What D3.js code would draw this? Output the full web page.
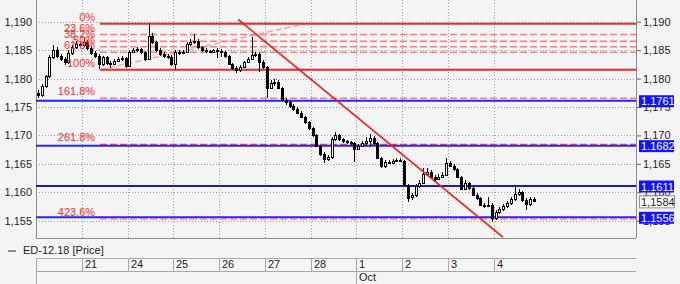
<!DOCTYPE html>
<html>
<head>
<meta charset="utf-8">
<script src="https://cdn.jsdelivr.net/npm/d3@7"></script>
<style>
  html, body { margin: 0; padding: 0; background: #f4f4f4; }
  svg { display: block; font-family: "Liberation Sans", Arial, sans-serif; }
</style>
</head>
<body>
<svg id="chart" width="680" height="284"></svg>
<script>
// one label per trading day, 12 two-hour candles per day
var dayLabels = ["20", "21", "24", "25", "26", "27", "28", "1", "2", "3", "4"];
var monthLabels = [{day: 7, text: "Oct"}];

var opens = [
  1.1775,1.1771,1.1787,1.1804,1.1838,1.1850,1.1840,1.1834,1.1829,1.1845,1.1856,1.1861,
  1.1859,1.1864,1.1854,1.1845,1.1840,1.1826,1.1838,1.1827,1.1826,1.1831,1.1834,1.1836,
  1.1822,1.1847,1.1850,1.1852,1.1847,1.1834,1.1875,1.1864,1.1850,1.1843,1.1840,1.1838,
  1.1826,1.1847,1.1845,1.1847,1.1861,1.1864,1.1866,1.1856,1.1850,1.1848,1.1847,1.1850,
  1.1848,1.1847,1.1840,1.1826,1.1819,1.1815,1.1820,1.1829,1.1834,1.1841,1.1843,1.1829,
  1.1820,1.1783,1.1792,1.1794,1.1783,1.1762,1.1759,1.1752,1.1746,1.1739,1.1732,1.1723,
  1.1713,1.1701,1.1681,1.1667,1.1658,1.1662,1.1694,1.1701,1.1694,1.1690,1.1688,1.1686,
  1.1676,1.1681,1.1686,1.1690,1.1695,1.1686,1.1660,1.1646,1.1653,1.1651,1.1655,1.1657,
  1.1655,1.1613,1.1591,1.1595,1.1611,1.1616,1.1632,1.1635,1.1627,1.1623,1.1627,1.1630,
  1.1651,1.1646,1.1641,1.1627,1.1606,1.1616,1.1607,1.1595,1.1590,1.1577,1.1576,1.1577,
  1.1554,1.1565,1.1570,1.1576,1.1581,1.1588,1.1597,1.1600,1.1586,1.1579,1.1588
];
var highs = [
  1.1780,1.1790,1.1806,1.1841,1.1859,1.1856,1.1843,1.1838,1.1850,1.1859,1.1866,1.1864,
  1.1871,1.1868,1.1857,1.1848,1.1843,1.1840,1.1840,1.1831,1.1834,1.1838,1.1840,1.1838,
  1.1850,1.1854,1.1856,1.1854,1.1848,1.1897,1.1880,1.1866,1.1854,1.1847,1.1843,1.1841,
  1.1850,1.1850,1.1850,1.1864,1.1870,1.1878,1.1870,1.1857,1.1854,1.1850,1.1852,1.1854,
  1.1852,1.1848,1.1841,1.1827,1.1822,1.1824,1.1831,1.1838,1.1873,1.1847,1.1847,1.1833,
  1.1822,1.1797,1.1799,1.1797,1.1785,1.1766,1.1762,1.1755,1.1750,1.1743,1.1734,1.1725,
  1.1715,1.1702,1.1683,1.1671,1.1665,1.1697,1.1706,1.1702,1.1695,1.1692,1.1690,1.1688,
  1.1685,1.1690,1.1697,1.1702,1.1699,1.1688,1.1662,1.1657,1.1657,1.1658,1.1660,1.1660,
  1.1657,1.1614,1.1598,1.1614,1.1621,1.1642,1.1642,1.1639,1.1630,1.1632,1.1635,1.1660,
  1.1655,1.1650,1.1642,1.1628,1.1621,1.1618,1.1611,1.1598,1.1591,1.1581,1.1591,1.1581,
  1.1569,1.1574,1.1579,1.1584,1.1591,1.1612,1.1606,1.1602,1.1590,1.1591,1.1591
];
var lows = [
  1.1766,1.1767,1.1783,1.1801,1.1834,1.1836,1.1831,1.1824,1.1826,1.1841,1.1852,1.1856,
  1.1856,1.1850,1.1841,1.1836,1.1817,1.1822,1.1824,1.1819,1.1824,1.1829,1.1831,1.1819,
  1.1820,1.1845,1.1847,1.1843,1.1831,1.1833,1.1861,1.1847,1.1840,1.1836,1.1834,1.1822,
  1.1815,1.1841,1.1843,1.1845,1.1857,1.1861,1.1852,1.1847,1.1845,1.1845,1.1845,1.1836,
  1.1838,1.1836,1.1824,1.1815,1.1810,1.1812,1.1819,1.1827,1.1833,1.1838,1.1812,1.1817,
  1.1766,1.1782,1.1787,1.1782,1.1759,1.1753,1.1748,1.1743,1.1738,1.1731,1.1720,1.1709,
  1.1697,1.1679,1.1664,1.1651,1.1655,1.1658,1.1690,1.1690,1.1686,1.1685,1.1683,1.1653,
  1.1674,1.1679,1.1681,1.1679,1.1683,1.1658,1.1642,1.1642,1.1650,1.1650,1.1653,1.1653,
  1.1609,1.1583,1.1586,1.1591,1.1607,1.1614,1.1628,1.1625,1.1620,1.1621,1.1625,1.1628,
  1.1644,1.1637,1.1625,1.1604,1.1604,1.1604,1.1593,1.1586,1.1576,1.1572,1.1574,1.1547,
  1.1551,1.1562,1.1567,1.1572,1.1577,1.1584,1.1593,1.1583,1.1569,1.1576,1.1583
];
var closes = [
  1.1771,1.1787,1.1804,1.1838,1.1850,1.1840,1.1834,1.1829,1.1845,1.1856,1.1861,1.1859,
  1.1864,1.1854,1.1845,1.1840,1.1826,1.1838,1.1827,1.1826,1.1831,1.1834,1.1836,1.1822,
  1.1847,1.1850,1.1852,1.1847,1.1834,1.1875,1.1864,1.1850,1.1843,1.1840,1.1838,1.1826,
  1.1847,1.1845,1.1847,1.1861,1.1864,1.1866,1.1856,1.1850,1.1848,1.1847,1.1850,1.1848,
  1.1847,1.1840,1.1826,1.1819,1.1815,1.1820,1.1829,1.1834,1.1841,1.1843,1.1829,1.1820,
  1.1783,1.1792,1.1794,1.1783,1.1762,1.1759,1.1752,1.1746,1.1739,1.1732,1.1723,1.1713,
  1.1701,1.1681,1.1667,1.1658,1.1662,1.1694,1.1701,1.1694,1.1690,1.1688,1.1686,1.1676,
  1.1681,1.1686,1.1690,1.1695,1.1686,1.1660,1.1646,1.1653,1.1651,1.1655,1.1657,1.1655,
  1.1613,1.1591,1.1595,1.1611,1.1616,1.1632,1.1635,1.1627,1.1623,1.1627,1.1630,1.1651,
  1.1646,1.1641,1.1627,1.1606,1.1616,1.1607,1.1595,1.1590,1.1577,1.1576,1.1577,1.1554,
  1.1565,1.1570,1.1576,1.1581,1.1588,1.1597,1.1600,1.1586,1.1579,1.1588,1.1584
];

var yTicks = [1.155, 1.160, 1.165, 1.170, 1.175, 1.180, 1.185, 1.190];
var minorTicks = [1.1525, 1.1575, 1.1625, 1.1675, 1.1725, 1.1775, 1.1825, 1.1875, 1.1925];

// fibonacci retracement drawn from the low (candle 16) to the high
var fibLow = 1.18154, fibHigh = 1.18965;
var fibStart = 16.8, fibEnd = 70.5;
var fibLevels = [0, 0.236, 0.382, 0.5, 0.618, 1, 1.618, 2.618, 4.236];
var fibNames = ["0%", "23.6%", "38.2%", "50%", "61.8%", "100%", "161.8%", "261.8%", "423.6%"];

var trendLine = [[53.0, 1.1904], [122.4, 1.1521]];
var levelLines = [1.1761, 1.1682, 1.1611, 1.1556];
var lastPrice = 1.1584;

var svg = d3.select("#chart"),
    left = 36, right = 636, top = 4, bottom = 238,
    perDay = 12;

var x = d3.scaleLinear().domain([0, 157.3]).range([left, right]);
var y = d3.scaleLinear().domain([1.155, 1.190]).range([220.7, 21.7]);

var comma = function(d) { return d3.format(".3f")(d).replace(".", ","); };

svg.append("rect").attr("width", 680).attr("height", 284).attr("fill", "#f4f4f4");

// grid
var grid = svg.append("g").attr("stroke", "#a0a0a0").attr("stroke-dasharray", "1,2").attr("shape-rendering", "crispEdges");
grid.selectAll(".h").data(yTicks).enter().append("line")
    .attr("x1", left).attr("x2", right)
    .attr("y1", function(d) { return Math.round(y(d)) + 0.5; })
    .attr("y2", function(d) { return Math.round(y(d)) + 0.5; });
grid.selectAll(".v").data(d3.range(1, dayLabels.length)).enter().append("line")
    .attr("y1", top).attr("y2", bottom)
    .attr("x1", function(k) { return Math.round(x(k * perDay)) + 0.5; })
    .attr("x2", function(k) { return Math.round(x(k * perDay)) + 0.5; });

// frame
var frame = svg.append("g").attr("stroke", "#8c8c8c").attr("shape-rendering", "crispEdges");
frame.append("line").attr("x1", left + 0.5).attr("x2", left + 0.5).attr("y1", top).attr("y2", bottom);
frame.append("line").attr("x1", right + 0.5).attr("x2", right + 0.5).attr("y1", top).attr("y2", bottom);
frame.append("line").attr("x1", left).attr("x2", right).attr("y1", bottom + 0.5).attr("y2", bottom + 0.5);

var plot = svg.append("g");

// fib levels
var fibPrice = function(l) { return fibHigh - l * (fibHigh - fibLow); };
plot.append("line")
    .attr("x1", x(fibStart)).attr("y1", y(fibLow))
    .attr("x2", x(fibEnd)).attr("y2", y(fibHigh))
    .attr("stroke", "#ff9090").attr("stroke-width", 1.2).attr("stroke-dasharray", "6,3");

// blue price levels
levelLines.forEach(function(p) {
  plot.append("line")
      .attr("x1", left).attr("x2", right)
      .attr("y1", y(p)).attr("y2", y(p))
      .attr("stroke", "#2424ff").attr("stroke-width", 2);
});
plot.append("line")
    .attr("x1", left).attr("x2", right)
    .attr("y1", y(1.1611)).attr("y2", y(1.1611))
    .attr("stroke", "#10104a").attr("stroke-width", 0.8);

fibLevels.forEach(function(l, i) {
  var solid = (l === 0 || l === 1);
  plot.append("line")
      .attr("x1", x(fibStart)).attr("x2", right)
      .attr("y1", y(fibPrice(l))).attr("y2", y(fibPrice(l)))
      .attr("stroke", solid ? "#f02828" : (l === 2.618 ? "#e83838" : "#ff7c7c"))
      .attr("stroke-width", solid ? 2 : 1.4)
      .attr("stroke-dasharray", solid ? null : "7,3");
});

svg.append("g")
    .attr("font-size", 11)
    .attr("fill", "#ff2a2a")
    .attr("text-anchor", "end")
  .selectAll("text")
  .data(fibLevels)
  .enter().append("text")
    .attr("x", x(fibStart) - 5)
    .attr("y", function(l) { return y(fibPrice(l)) - 3; })
    .text(function(l, i) { return fibNames[i]; });

// candles
var candles = plot.append("g").attr("shape-rendering", "crispEdges");
var c = candles.selectAll("g").data(d3.range(closes.length)).enter().append("g");
var cx = function(i) { return Math.round(x(i + 0.5)) + 0.5; };
c.append("line")
    .attr("x1", cx).attr("x2", cx)
    .attr("y1", function(i) { return y(highs[i]); })
    .attr("y2", function(i) { return y(lows[i]); })
    .attr("stroke", "#000");
c.append("rect")
    .attr("x", function(i) { return cx(i) - 1; })
    .attr("width", 2)
    .attr("y", function(i) { return Math.round(y(Math.max(opens[i], closes[i]))) + 0.5; })
    .attr("height", function(i) { return Math.max(1, Math.round(Math.abs(y(opens[i]) - y(closes[i])))); })
    .attr("fill", function(i) { return closes[i] >= opens[i] ? "#fff" : "#000"; })
    .attr("stroke", "#000");

// trend line, stopped at the bottom edge of the plot
var t0 = trendLine[0], t1 = trendLine[1];
var tEnd = Math.min(1, (bottom - y(t0[1])) / (y(t1[1]) - y(t0[1])));
plot.append("line")
    .attr("x1", x(t0[0])).attr("y1", y(t0[1]))
    .attr("x2", x(t0[0] + tEnd * (t1[0] - t0[0]))).attr("y2", y(t0[1] + tEnd * (t1[1] - t0[1])))
    .attr("stroke", "#ff1010").attr("stroke-width", 1.5);

// axes
var leftAxis = svg.append("g")
    .attr("transform", "translate(" + left + ",0)")
    .call(d3.axisLeft(y).tickValues(yTicks).tickSize(0).tickPadding(4).tickFormat(comma));
var rightAxis = svg.append("g")
    .attr("transform", "translate(" + (right + 1) + ",0)")
    .call(d3.axisRight(y).tickValues(yTicks).tickSize(4).tickPadding(2).tickFormat(comma));
svg.append("g")
    .attr("transform", "translate(" + (right + 1) + ",0)")
    .call(d3.axisRight(y).tickValues(minorTicks.filter(function(d) { return y(d) > top && y(d) < bottom; })).tickSize(3).tickFormat(""))
    .select(".domain").remove();
[leftAxis, rightAxis].forEach(function(a) {
  a.select(".domain").remove();
  a.selectAll("text").attr("font-size", 11).attr("fill", "#1e1e1e").attr("font-family", "Liberation Sans, Arial, sans-serif");
  a.selectAll("line").attr("stroke", "#606060");
});

// right-hand price tags
var tags = svg.append("g").attr("font-size", 11);
levelLines.forEach(function(p) {
  tags.append("rect").attr("x", 639).attr("y", y(p) - 5.5).attr("width", 35).attr("height", 12).attr("fill", "#1414ff");
  tags.append("text").attr("x", 641).attr("y", y(p) + 4.5).attr("fill", "#fff").text(d3.format(".4f")(p));
});
tags.append("rect").attr("x", 639.5).attr("y", y(lastPrice) - 5.5).attr("width", 35).attr("height", 12)
    .attr("fill", "#fff").attr("stroke", "#909090");
tags.append("text").attr("x", 641).attr("y", y(lastPrice) + 4.5).attr("fill", "#1e1e1e")
    .text(d3.format(".4f")(lastPrice).replace(".", ","));

// legend
svg.append("line").attr("x1", 8).attr("x2", 16).attr("y1", 251).attr("y2", 251).attr("stroke", "#909090").attr("stroke-width", 2);
svg.append("text").attr("x", 23).attr("y", 254).attr("font-size", 11).attr("fill", "#1e1e1e").text("ED-12.18 [Price]");

// date axis
var dates = svg.append("g").attr("stroke", "#a8a8a8").attr("shape-rendering", "crispEdges");
dates.append("line").attr("x1", left).attr("x2", right).attr("y1", 258.5).attr("y2", 258.5);
dates.append("line").attr("x1", left).attr("x2", right).attr("y1", 271.5).attr("y2", 271.5);
dates.append("line").attr("x1", left + 0.5).attr("x2", left + 0.5).attr("y1", 258).attr("y2", 284);
dates.selectAll(".sep").data(d3.range(1, dayLabels.length)).enter().append("line")
    .attr("x1", function(k) { return Math.round(x(k * perDay)) + 0.5; })
    .attr("x2", function(k) { return Math.round(x(k * perDay)) + 0.5; })
    .attr("y1", 258)
    .attr("y2", function(k) { return monthLabels.some(function(m) { return m.day === k; }) ? 284 : 271; });

svg.append("g").attr("font-size", 11).attr("fill", "#1e1e1e")
  .selectAll("text").data(d3.range(1, dayLabels.length)).enter().append("text")
    .attr("x", function(k) { return Math.round(x(k * perDay)) + 3; })
    .attr("y", 268)
    .text(function(k) { return dayLabels[k]; });
svg.append("g").attr("font-size", 11).attr("fill", "#1e1e1e")
  .selectAll("text").data(monthLabels).enter().append("text")
    .attr("x", function(m) { return Math.round(x(m.day * perDay)) + 3; })
    .attr("y", 281)
    .text(function(m) { return m.text; });
</script>
</body>
</html>
